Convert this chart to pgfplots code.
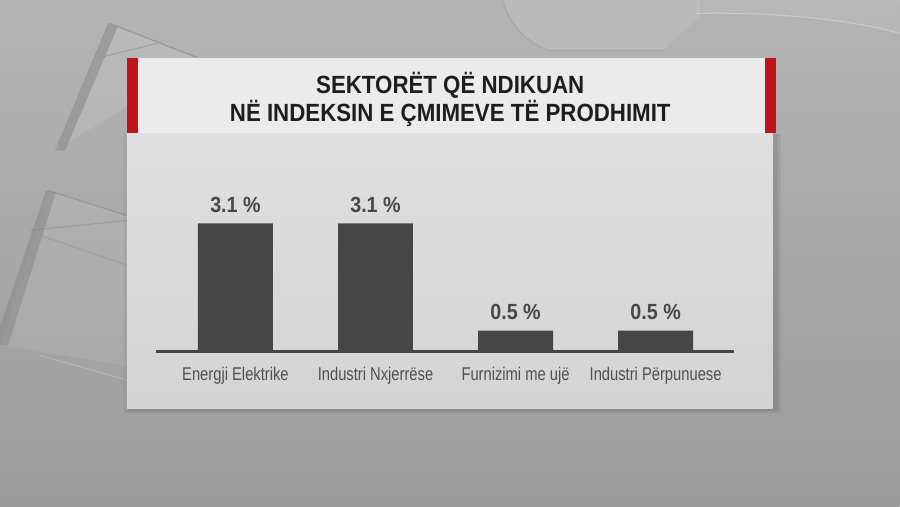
\documentclass[border=0pt]{standalone}
\usepackage{pgfplots}
\pgfplotsset{compat=1.18}
\usepackage{fontspec}
\setmainfont{Liberation Sans}
\newfontfamily\titlefont{Liberation Sans}[FakeStretch=0.895]
\newfontfamily\labelfont{Liberation Sans}[FakeStretch=0.80]
\newfontfamily\valuefont{Liberation Sans}[FakeStretch=0.90]
\definecolor{bgtop}{HTML}{B4B4B4}
\definecolor{bgbot}{HTML}{9B9B9B}
\definecolor{paneltop}{HTML}{DFDFDF}
\definecolor{panelbot}{HTML}{D4D4D4}
\definecolor{banner}{HTML}{EBEBEB}
\definecolor{redbar}{HTML}{C0131A}
\definecolor{titlecol}{HTML}{1E1E1E}
\definecolor{barcol}{HTML}{464646}
\definecolor{labcol}{HTML}{505050}
\definecolor{valcol}{HTML}{484848}
\definecolor{dk}{HTML}{858585}
\begin{document}
\begin{tikzpicture}[x=1bp,y=1bp]
% background (y = 506 - pixel row)
\shade[top color=bgtop, bottom color=bgbot] (0,0) rectangle (900,506);
% upper-left decorative shapes
\fill[white, opacity=0.10] (110,483) -- (197,449) -- (128,400) -- (55,356) -- cycle;
\fill[dk, opacity=0.55] (108,483) -- (118,480) -- (65,356) -- (55,356) -- cycle;
\draw[dk, opacity=0.6, line width=1.2bp] (110,483) -- (197,449);
\draw[dk, opacity=0.5, line width=1bp] (100,449) -- (157,463);
\fill[white, opacity=0.08] (48,316) -- (128,290) -- (128,140) -- (0,161) -- cycle;
\fill[dk, opacity=0.5] (46,316) -- (56,314) -- (8,161) -- (0,161) -- (0,180) -- cycle;
\draw[dk, opacity=0.5, line width=1.2bp] (48,316) -- (133,289);
\draw[dk, opacity=0.45, line width=1bp] (30,276) -- (128,286);
\draw[dk, opacity=0.35, line width=1bp] (40,271) -- (128,241);
\draw[white, opacity=0.25, line width=0.8bp] (40,151) -- (128,126);
% top-right decorative shapes
\fill[white, opacity=0.10] (503,506) .. controls (510,480) and (530,462) .. (550,456) -- (663,456) -- (700,490) -- (700,506) -- cycle;
\draw[dk, opacity=0.35, line width=1bp] (503,506) .. controls (510,480) and (530,462) .. (550,456) -- (663,456);
\draw[white, opacity=0.30, line width=1bp] (697,493) .. controls (780,495) and (860,485) .. (900,473);
\fill[white, opacity=0.06] (697,493) .. controls (780,495) and (860,485) .. (900,473) -- (900,506) -- (697,506) -- cycle;
% panel shadow
\fill[black, opacity=0.06] (124,93) rectangle (781,372);
\fill[black, opacity=0.08] (128,95) rectangle (778,372);
% panel
\shade[top color=paneltop, bottom color=panelbot] (127,98) rectangle (773,373);
% banner
\fill[banner] (127,373) rectangle (776,448);
\fill[redbar] (127,373) rectangle (138,448);
\fill[redbar] (765,373) rectangle (776,448);
\node[anchor=base, inner sep=0, text=titlecol, font=\titlefont\bfseries\fontsize{25}{25}\selectfont] at (450.5,413) {SEKTORËT QË NDIKUAN};
\node[anchor=base, inner sep=0, text=titlecol, font=\titlefont\bfseries\fontsize{25}{25}\selectfont] at (450.5,385) {NË INDEKSIN E ÇMIMEVE TË PRODHIMIT};
\begin{axis}[
  at={(156bp,155bp)}, anchor=south west,
  scale only axis, width=578bp, height=128bp,
  xmin=-0.568, xmax=3.557, ymin=0, ymax=3.1,
  clip=false,
  axis x line*=bottom, axis y line=none,
  x axis line style={draw=barcol, line width=2.5bp, -},
  xtick={0,1,2,3},
  xticklabels={Energji Elektrike, Industri Nxjerrëse, Furnizimi me ujë, Industri Përpunuese},
  xtick style={draw=none}, major tick length=0,
  xticklabel style={anchor=base, yshift=-29bp, inner sep=0, text=labcol, font=\labelfont\fontsize{18.5}{18.5}\selectfont},
  ybar, bar width=75bp,
  point meta=explicit symbolic,
  nodes near coords,
  every node near coord/.append style={anchor=base, yshift=11bp, inner sep=0, text=valcol, font=\valuefont\bfseries\fontsize{22}{22}\selectfont},
]
\addplot[fill=barcol, draw=none] coordinates {
  (0,3.1) [3.1 \%]
  (1,3.1) [3.1 \%]
  (2,0.5) [0.5 \%]
  (3,0.5) [0.5 \%]
};
\end{axis}
\end{tikzpicture}
\end{document}
